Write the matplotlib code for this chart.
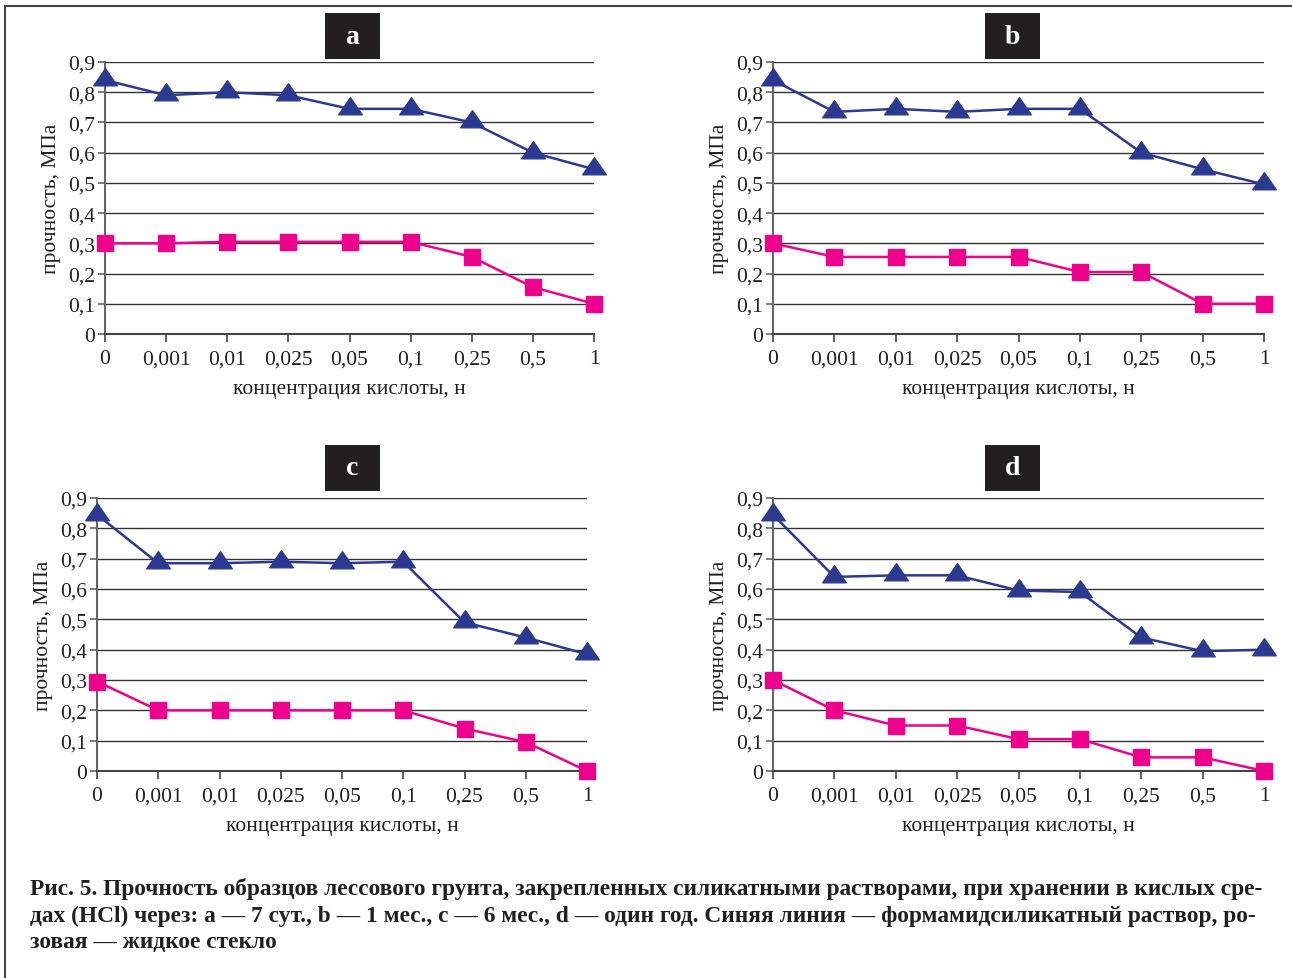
import matplotlib
matplotlib.use("Agg")
import matplotlib.pyplot as plt
from matplotlib.patches import Rectangle
from matplotlib.lines import Line2D
from matplotlib.path import Path

# categories on x axis (acid concentration, N)
categories = ["0", "0,001", "0,01", "0,025", "0,05", "0,1", "0,25", "0,5", "1"]

# strength, MPa: blue = formamide silicate solution, pink = liquid glass
blue_a = [0.84, 0.79, 0.80, 0.79, 0.745, 0.745, 0.70, 0.60, 0.545]
pink_a = [0.30, 0.30, 0.305, 0.305, 0.305, 0.305, 0.255, 0.155, 0.10]

blue_b = [0.84, 0.735, 0.745, 0.735, 0.745, 0.745, 0.60, 0.545, 0.495]
pink_b = [0.30, 0.255, 0.255, 0.255, 0.255, 0.205, 0.205, 0.10, 0.10]

blue_c = [0.845, 0.685, 0.685, 0.69, 0.685, 0.69, 0.49, 0.44, 0.385]
pink_c = [0.295, 0.20, 0.20, 0.20, 0.20, 0.20, 0.14, 0.095, 0.0]

blue_d = [0.845, 0.64, 0.645, 0.645, 0.595, 0.59, 0.44, 0.395, 0.40]
pink_d = [0.30, 0.20, 0.15, 0.15, 0.105, 0.105, 0.045, 0.045, 0.0]

panel_letters = ["a", "b", "c", "d"]
yticks = [0, 0.1, 0.2, 0.3, 0.4, 0.5, 0.6, 0.7, 0.8, 0.9]

caption_lines = [
    "Рис. 5. Прочность образцов лессового грунта, закрепленных силикатными растворами, при хранении в кислых сре-",
    "дах (HCl) через: a — 7 сут., b — 1 мес., c — 6 мес., d — один год. Синяя линия — формамидсиликатный раствор, ро-",
    "зовая — жидкое стекло",
]

BLUE = "#2b3990"
PINK = "#ec008c"
W, H = 1292, 979

plt.rcParams["font.family"] = ["Liberation Serif", "DejaVu Serif"]

# flattened triangle marker, data point sits low in the triangle
tri = Path([(-1, -0.45), (1, -0.45), (0, 1.0), (-1, -0.45)],
           [Path.MOVETO, Path.LINETO, Path.LINETO, Path.CLOSEPOLY])

fig = plt.figure(figsize=(W / 100, H / 100), dpi=100)


def px_rect(left, top, right, bottom):
    return [left / W, 1 - bottom / H, (right - left) / W, (bottom - top) / H]


# outer frame (top and left edges)
fig.add_artist(Line2D([5 / W, 1], [1 - 7 / H, 1 - 7 / H], transform=fig.transFigure,
                      color="#444444", lw=1.5))
fig.add_artist(Line2D([5 / W, 5 / W], [0, 1 - 7 / H], transform=fig.transFigure,
                      color="#444444", lw=1.5))

# (axes box in px, title box in px)
layout = [
    ((105, 63, 594, 335), (325, 14, 380, 60)),
    ((773, 63, 1264, 335), (985, 14, 1040, 60)),
    ((97, 499, 587, 772), (325, 446, 380, 492)),
    ((773, 499, 1264, 772), (985, 446, 1040, 492)),
]
series = [(blue_a, pink_a), (blue_b, pink_b), (blue_c, pink_c), (blue_d, pink_d)]

for (box, tbox), (blue, pink), letter in zip(layout, series, panel_letters):
    ax = fig.add_axes(px_rect(*box))
    x = range(len(categories))
    ax.plot(x, blue, color=BLUE, lw=1.8, marker=tri, markersize=17,
            markerfacecolor=BLUE, markeredgecolor=BLUE, clip_on=False, zorder=3)
    ax.plot(x, pink, color=PINK, lw=1.8, marker="s", markersize=12,
            markerfacecolor=PINK, markeredgecolor=PINK, clip_on=False, zorder=3)

    ax.set_xlim(0, len(categories) - 1)
    ax.set_ylim(0, 0.9)
    ax.set_xticks(list(x))
    ax.set_xticklabels(categories)
    ax.set_yticks(yticks)
    ax.set_yticklabels(["0"] + [f"{v:.1f}".replace(".", ",") for v in yticks[1:]])
    ax.grid(axis="y", color="#333333", lw=1.0)
    ax.set_axisbelow(True)
    for s in ["top", "right"]:
        ax.spines[s].set_visible(False)
    ax.spines["left"].set_color("#666666")
    ax.spines["bottom"].set_color("#444444")
    ax.spines["left"].set_linewidth(1.5)
    ax.spines["bottom"].set_linewidth(1.5)
    ax.tick_params(axis="y", length=5, width=1.2, color="#666666", pad=2,
                   labelsize=15.5, labelcolor="#231f20")
    ax.tick_params(axis="x", length=6, width=1.2, color="#444444", pad=5,
                   labelsize=15.5, labelcolor="#231f20")
    ax.set_ylabel("прочность, МПа", fontsize=15.5, color="#231f20", labelpad=5)
    ax.set_xlabel("концентрация кислоты, н", fontsize=15.5, color="#231f20", labelpad=8)

    l, t, r, b = tbox
    fig.add_artist(Rectangle((l / W, 1 - b / H), (r - l) / W, (b - t) / H,
                             transform=fig.transFigure, facecolor="#231f20",
                             edgecolor="none"))
    fig.text((l + r) / 2 / W, 1 - (t + b) / 2 / H, letter, color="white",
             fontsize=20, fontweight="bold", ha="center", va="center")

for i, line in enumerate(caption_lines):
    fig.text(30 / W, 1 - (889 + 27 * i) / H, line, fontsize=16.8, fontweight="bold",
             color="#231f20", ha="left", va="center")

fig.savefig("out.png", dpi=100)
